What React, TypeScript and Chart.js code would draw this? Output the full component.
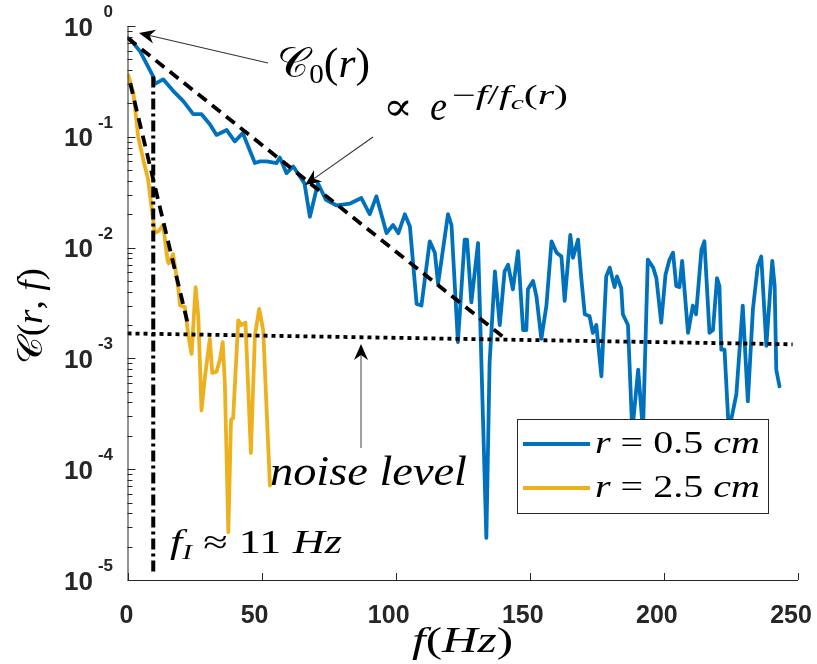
import React, { useEffect, useRef } from 'react';
import { Chart, registerables } from 'chart.js';

Chart.register(...registerables);

// ---------------- data ----------------
const blueFreq = [0, 1, 4.7, 9.6, 10.2, 13.3, 17, 20.8, 24.5, 27.6, 30.7, 33.2, 37, 40, 43, 47.5, 49.4, 51.9, 55.6, 56.8, 59.3, 61.8, 66, 68, 71, 74, 78, 83, 87.2, 90.3, 92.8, 96.6, 99, 101, 103.4, 105.3, 107.8, 109.6, 112.7, 114.6, 115.8, 119.5, 120.8, 123.2, 125.7, 126.6, 128.2, 130.7, 133.8, 135, 137, 138.8, 140.6, 141.9, 143.7, 145.6, 147.5, 148.7, 149.3, 151.2, 152.5, 154.3, 156.2, 158.1, 160, 161.8, 163, 165.1, 166.1, 168, 169.2, 170.5, 172.3, 173.5, 174.8, 176.7, 178.5, 179.8, 181.6, 182.5, 184.1, 184.7, 186.6, 188.2, 190.4, 192.2, 194, 196, 197.2, 199, 200.6, 202.1, 203.4, 204.6, 205.8, 206.8, 209, 210.8, 212, 214, 215.1, 217, 218.3, 219.8, 220.7, 221.4, 222.6, 224.2, 227, 229.4, 231.3, 233.2, 235, 236.3, 238.2, 240.4, 241.3, 241.9, 243.1];
const blueVal = [0.78, 0.76, 0.59, 0.35, 0.30, 0.33, 0.26, 0.21, 0.16, 0.16, 0.13, 0.104, 0.115, 0.091, 0.108, 0.058, 0.060, 0.060, 0.058, 0.065, 0.047, 0.054, 0.038, 0.019, 0.038, 0.027, 0.024, 0.025, 0.028, 0.020, 0.029, 0.0135, 0.016, 0.0135, 0.020, 0.0155, 0.0031, 0.0030, 0.0114, 0.0090, 0.0047, 0.020, 0.016, 0.0014, 0.0118, 0.0118, 0.0032, 0.011, 2.4e-5, 9e-4, 0.0061, 0.0020, 0.0061, 0.0070, 0.0042, 0.0093, 0.0018, 0.0018, 0.0042, 0.0050, 0.0036, 0.0015, 0.0030, 0.0114, 0.0090, 0.0083, 0.0033, 0.013, 0.0081, 0.0118, 0.0053, 0.0025, 0.0024, 0.0017, 0.0020, 6.9e-4, 0.0055, 0.0066, 0.0044, 0.0055, 0.0043, 0.0025, 0.0020, 2.2e-4, 7.9e-4, 2.2e-4, 0.0078, 0.0066, 0.0053, 0.0021, 0.0057, 0.0078, 0.0090, 0.0045, 0.0044, 0.0076, 0.0017, 0.0030, 0.0025, 0.0096, 0.0114, 0.0017, 0.0018, 0.0053, 0.0045, 0.0012, 0.0012, 2.2e-4, 4.7e-4, 0.0030, 4.1e-4, 0.0028, 0.0068, 0.0083, 0.0013, 0.0076, 0.0045, 7.9e-4, 5.6e-4];

const orangeFreq = [0.3, 2.2, 4, 5.9, 7.7, 8.8, 10.2, 11.5, 13.3, 15, 15.4, 17, 19, 19.6, 21.4, 22.7, 23.9, 25.4, 26.4, 27.6, 28.9, 30.7, 31.6, 33.2, 34.5, 35.5, 36.3, 37.6, 38.6, 39.4, 41.3, 42.5, 44, 46, 47.5, 49.1, 50.6, 53.1];
const orangeVal = [0.36, 0.25, 0.100, 0.062, 0.041, 0.025, 0.0135, 0.0140, 0.016, 0.0075, 0.0072, 0.0087, 0.0042, 0.0030, 0.0029, 0.0016, 0.0011, 0.0044, 0.0024, 3.4e-4, 6.9e-4, 0.0015, 7.4e-4, 7.6e-4, 9.8e-4, 0.0014, 6.0e-4, 2.7e-5, 2.8e-4, 2.9e-4, 0.0022, 0.0020, 0.0021, 1.4e-4, 0.0016, 0.0028, 0.0018, 7.1e-5];

const blueFitFreq = [0, 141.3];
const blueFitVal = [0.78, 0.00148];
const orangeFitFreq = [1, 22.7];
const orangeFitVal = [0.305, 0.00195];
const noiseFreq = [0, 248];
const noiseVal = [0.00168, 0.00134];
const fIFreq = [9.6, 9.6];
const fIVal = [0.35, 1.18e-5];

const xTicks = [0, 50, 100, 150, 200, 250];
const yDecades = [0, -1, -2, -3, -4, -5];
const seriesLabels = ['r = 0.5 cm', 'r = 2.5 cm'];
const seriesColors = ['#0072BD', '#EDB120'];

// ---------------- drawing helpers ----------------
const SERIF = '"Liberation Serif", "DejaVu Serif", serif';
const SANS = '"Liberation Sans", Arial, sans-serif';

type Part = { t: string; size: number; it?: boolean; dy?: number };

function fontOf(p: Part) {
  return `${p.it ? 'italic ' : ''}${p.size}px ${SERIF}`;
}
function partsWidth(ctx: CanvasRenderingContext2D, parts: Part[]) {
  let w = 0;
  for (const p of parts) {
    ctx.font = fontOf(p);
    w += ctx.measureText(p.t).width;
  }
  return w;
}
function drawParts(ctx: CanvasRenderingContext2D, x: number, y: number, parts: Part[], targetW?: number) {
  const w = partsWidth(ctx, parts);
  const sx = targetW ? targetW / w : 1;
  ctx.save();
  ctx.translate(x, y);
  ctx.scale(sx, 1);
  ctx.fillStyle = '#000';
  ctx.textAlign = 'left';
  ctx.textBaseline = 'alphabetic';
  let cx = 0;
  for (const p of parts) {
    ctx.font = fontOf(p);
    ctx.fillText(p.t, cx, p.dy || 0);
    cx += ctx.measureText(p.t).width;
  }
  ctx.restore();
}
function mathParts(str: string, size: number): Part[] {
  const out: Part[] = [];
  const re = /([A-Za-z]+)|([^A-Za-z]+)/g;
  let m: RegExpExecArray | null;
  while ((m = re.exec(str))) {
    if (m[1]) out.push({ t: m[1], size, it: true });
    else out.push({ t: m[2], size });
  }
  return out;
}
function arrow(ctx: CanvasRenderingContext2D, x0: number, y0: number, x1: number, y1: number, color: string) {
  const ang = Math.atan2(y1 - y0, x1 - x0);
  const L = 16, W = 7, back = 11;
  const c = Math.cos(ang), s = Math.sin(ang);
  ctx.save();
  ctx.strokeStyle = color;
  ctx.lineWidth = 1.1;
  ctx.beginPath();
  ctx.moveTo(x0, y0);
  ctx.lineTo(x1 - c * back, y1 - s * back);
  ctx.stroke();
  ctx.fillStyle = '#000';
  ctx.beginPath();
  ctx.moveTo(x1, y1);
  ctx.lineTo(x1 - c * L - s * W, y1 - s * L + c * W);
  ctx.lineTo(x1 - c * back, y1 - s * back);
  ctx.lineTo(x1 - c * L + s * W, y1 - s * L - c * W);
  ctx.closePath();
  ctx.fill();
  ctx.restore();
}

const decorPlugin = {
  id: 'matlabDecor',
  afterDraw(chart: any) {
    const ctx: CanvasRenderingContext2D = chart.ctx;
    const xs = chart.scales.x;
    const ys = chart.scales.y;
    const { left, right, top, bottom } = chart.chartArea;
    ctx.save();

    // axes lines
    ctx.strokeStyle = '#262626';
    ctx.lineWidth = 1;
    ctx.beginPath();
    ctx.moveTo(left + 0.5, top);
    ctx.lineTo(left + 0.5, bottom + 0.5);
    ctx.lineTo(right, bottom + 0.5);
    ctx.stroke();

    // y ticks (inward)
    ctx.beginPath();
    for (const e of yDecades) {
      const yp = Math.round(ys.getPixelForValue(Math.pow(10, e))) + 0.5;
      ctx.moveTo(left, yp);
      ctx.lineTo(left + 8, yp);
      if (e > -5) {
        for (let m = 2; m <= 9; m++) {
          const ym = Math.round(ys.getPixelForValue(m * Math.pow(10, e - 1))) + 0.5;
          ctx.moveTo(left, ym);
          ctx.lineTo(left + 5, ym);
        }
      }
    }
    // x ticks (inward)
    for (const t of xTicks) {
      const xp = Math.round(xs.getPixelForValue(t)) + 0.5;
      ctx.moveTo(xp, bottom);
      ctx.lineTo(xp, bottom - 7);
    }
    ctx.stroke();

    // tick labels
    ctx.fillStyle = '#262626';
    for (const e of yDecades) {
      const yp = ys.getPixelForValue(Math.pow(10, e));
      ctx.font = `bold 26px ${SANS}`;
      ctx.textAlign = 'right';
      ctx.textBaseline = 'alphabetic';
      ctx.fillText('10', 93, yp + 9.5);
      ctx.font = `bold 17px ${SANS}`;
      ctx.fillText(String(e), 113, yp - 9);
    }
    ctx.font = `bold 25px ${SANS}`;
    ctx.textAlign = 'center';
    for (const t of xTicks) {
      const xp = xs.getPixelForValue(t) + (t === 0 ? -1 : -7);
      ctx.fillText(String(t), xp, 623);
    }

    // axis titles
    drawParts(ctx, 412, 652, [
      { t: 'f', size: 35, it: true }, { t: '(', size: 35 }, { t: 'Hz', size: 35, it: true }, { t: ')', size: 35 },
    ], 101);
    ctx.save();
    ctx.translate(42, 364);
    ctx.rotate(-Math.PI / 2);
    drawParts(ctx, 0, 0, [
      { t: '𝒞', size: 35 }, { t: '(', size: 35 }, { t: 'r', size: 35, it: true }, { t: ', ', size: 35 },
      { t: 'f', size: 35, it: true }, { t: ')', size: 35 },
    ], 96);
    ctx.restore();

    // annotations
    drawParts(ctx, 277, 77, [
      { t: '𝒞', size: 42 }, { t: '0', size: 28, dy: 6 }, { t: '(', size: 42 }, { t: 'r', size: 42, it: true }, { t: ')', size: 42 },
    ], 93);
    drawParts(ctx, 383, 120, [{ t: '∝', size: 40 }], 30);
    drawParts(ctx, 430, 120, [{ t: 'e', size: 42, it: true }], 17);
    drawParts(ctx, 452, 104, [
      { t: '−', size: 27 }, { t: 'f', size: 27, it: true }, { t: '/', size: 27 }, { t: 'f', size: 27, it: true },
      { t: 'c', size: 19, it: true, dy: 5 }, { t: '(', size: 27 }, { t: 'r', size: 27, it: true }, { t: ')', size: 27 },
    ], 116);
    drawParts(ctx, 270, 485, [{ t: 'noise level', size: 42, it: true }], 197);
    drawParts(ctx, 170, 553, [
      { t: 'f', size: 33, it: true }, { t: 'I', size: 22, it: true, dy: 6 }, { t: ' ≈ ', size: 33 }, { t: '11 ', size: 33 },
      { t: 'Hz', size: 33, it: true },
    ], 172);

    arrow(ctx, 268, 63, 139, 33, '#333');
    arrow(ctx, 373, 137, 305, 185, '#333');
    arrow(ctx, 361, 448, 361, 344, '#555');

    // legend
    const lx = 517, ly = 419, lw = 251, lh = 94;
    ctx.fillStyle = '#fff';
    ctx.fillRect(lx, ly, lw, lh);
    ctx.strokeStyle = '#262626';
    ctx.lineWidth = 1;
    ctx.strokeRect(lx + 0.5, ly + 0.5, lw, lh);
    chart.data.datasets.forEach((ds: any, i: number) => {
      if (!ds.showInLegend) return;
      const yy = 444 + i * 44;
      ctx.strokeStyle = ds.borderColor;
      ctx.lineWidth = 4;
      ctx.setLineDash([]);
      ctx.beginPath();
      ctx.moveTo(523, yy);
      ctx.lineTo(590, yy);
      ctx.stroke();
      drawParts(ctx, 595, yy + 9, mathParts(ds.label, 32), 165);
    });
    ctx.restore();
  },
};

function pts(xsArr: number[], ysArr: number[]) {
  return xsArr.map((x, i) => ({ x, y: ysArr[i] }));
}

export default function App() {
  const ref = useRef<HTMLCanvasElement>(null);
  useEffect(() => {
    if (!ref.current) return;
    const chart = new Chart(ref.current, {
      type: 'line',
      data: {
        datasets: [
          {
            label: seriesLabels[0], showInLegend: true,
            data: pts(blueFreq, blueVal), borderColor: seriesColors[0], borderWidth: 3.8,
            pointRadius: 0, tension: 0, borderJoinStyle: 'round', borderCapStyle: 'round', order: 3,
          } as any,
          {
            label: seriesLabels[1], showInLegend: true,
            data: pts(orangeFreq, orangeVal), borderColor: seriesColors[1], borderWidth: 3.8,
            pointRadius: 0, tension: 0, borderJoinStyle: 'round', borderCapStyle: 'round', order: 4,
          } as any,
          {
            label: 'fit 0.5', data: pts(blueFitFreq, blueFitVal), borderColor: '#000', borderWidth: 3.8,
            borderDash: [11, 7], pointRadius: 0, order: 1,
          },
          {
            label: 'fit 2.5', data: pts(orangeFitFreq, orangeFitVal), borderColor: '#000', borderWidth: 3.8,
            borderDash: [11, 7], pointRadius: 0, order: 1,
          },
          {
            label: 'noise', data: pts(noiseFreq, noiseVal), borderColor: '#000', borderWidth: 3.8,
            borderDash: [4, 4], pointRadius: 0, order: 1,
          },
          {
            label: 'fI', data: pts(fIFreq, fIVal), borderColor: '#000', borderWidth: 4,
            borderDash: [11, 4, 3, 4], pointRadius: 0, order: 1,
          },
        ],
      },
      options: {
        animation: false,
        responsive: false,
        events: [],
        layout: { padding: { left: 127.5, right: 19, top: 26, bottom: 84 } },
        plugins: { legend: { display: false }, tooltip: { enabled: false } },
        scales: {
          x: { type: 'linear', min: 0, max: 250, display: false },
          y: { type: 'logarithmic', min: 1e-5, max: 1, display: false },
        },
      },
      plugins: [decorPlugin],
    });
    return () => chart.destroy();
  }, []);
  return (
    <div style={{ position: 'fixed', left: 0, top: 0, width: 817, height: 664, background: '#fff' }}>
      <canvas ref={ref} width={817} height={664} />
    </div>
  );
}
